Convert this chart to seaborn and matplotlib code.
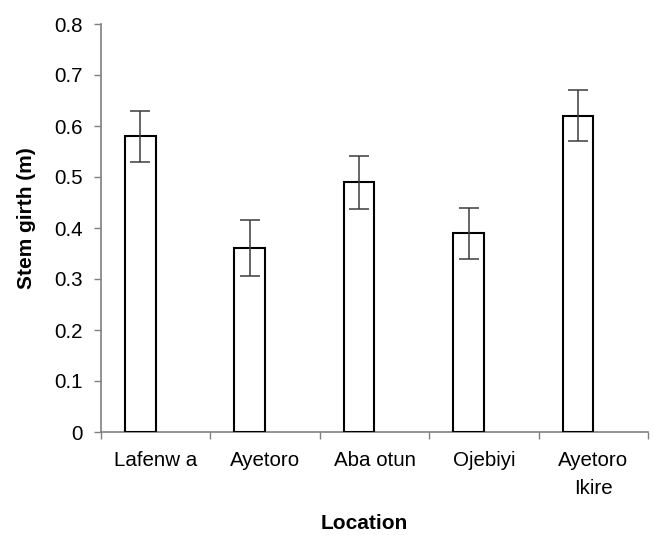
import matplotlib
matplotlib.use("Agg")
import matplotlib.pyplot as plt
import seaborn as sns
import pandas as pd
import numpy as np

locations = ["Lafenw a", "Ayetoro", "Aba otun", "Ojebiyi", "Ayetoro\nIkire"]
girth = [0.58, 0.36, 0.49, 0.39, 0.62]
err = [0.05, 0.055, 0.052, 0.05, 0.05]
yticks = [0, 0.1, 0.2, 0.3, 0.4, 0.5, 0.6, 0.7, 0.8]
ytick_labels = ["0", "0.1", "0.2", "0.3", "0.4", "0.5", "0.6", "0.7", "0.8"]

sns.set_style("ticks")
plt.rcParams["font.family"] = ["Liberation Sans", "DejaVu Sans"]
plt.rcParams["text.color"] = "black"
plt.rcParams["axes.labelcolor"] = "black"
plt.rcParams["xtick.labelcolor"] = "black"
plt.rcParams["ytick.labelcolor"] = "black"

df = pd.DataFrame({"Location": locations, "girth": girth, "series": ["s1"] * len(locations)})

fig = plt.figure(figsize=(6.54, 5.35), dpi=100)
ax = fig.add_axes([101 / 654, 1 - 432 / 535, (648 - 101) / 654, (432 - 24) / 535])

sns.barplot(data=df, x="Location", y="girth", hue="series", hue_order=["s1", "s2"],
            order=locations, width=0.56, dodge=True, errorbar=None, legend=False,
            palette={"s1": "white", "s2": "white"}, edgecolor="black", linewidth=1.5,
            ax=ax, zorder=3)

# error bars at bar centres
bars = [p for p in ax.patches if p.get_height() > 0]
bars = sorted(bars, key=lambda p: p.get_x())
xc = [p.get_x() + p.get_width() / 2 for p in bars]
ax.errorbar(xc, girth, yerr=err, fmt="none", ecolor="#3c3c3c", elinewidth=1.1,
            capsize=7, capthick=1.1, zorder=4)

ax.set_xlim(-0.5, len(locations) - 0.5)
ax.set_ylim(0, 0.8)
ax.set_yticks(yticks)
ax.set_yticklabels(ytick_labels)

ax.set_xticks([i - 0.5 for i in range(len(locations) + 1)])
ax.set_xticklabels([])
ax.set_xticks(range(len(locations)), minor=True)
ax.set_xticklabels(locations, minor=True, linespacing=1.6)
ax.tick_params(axis="x", which="minor", length=0, pad=14, labelsize=14.8, labelcolor="black")
ax.tick_params(axis="x", which="major", length=5, color="#808080", width=1)
ax.tick_params(axis="y", length=5, color="#808080", width=1, pad=8, labelsize=14.8,
               labelcolor="black")

for s in ["top", "right"]:
    ax.spines[s].set_visible(False)
for s in ["left", "bottom"]:
    ax.spines[s].set_color("#808080")
    ax.spines[s].set_linewidth(1.2)

ax.set_xlabel("Location", fontsize=15, fontweight="bold", color="black")
ax.set_ylabel("Stem girth (m)", fontsize=15, fontweight="bold", color="black")
ax.xaxis.set_label_coords((364 - 101) / 547, (432 - 514) / 408)
ax.yaxis.set_label_coords((36 - 101) / 547, (432 - 218) / 408)

fig.savefig("out.png", dpi=100)
